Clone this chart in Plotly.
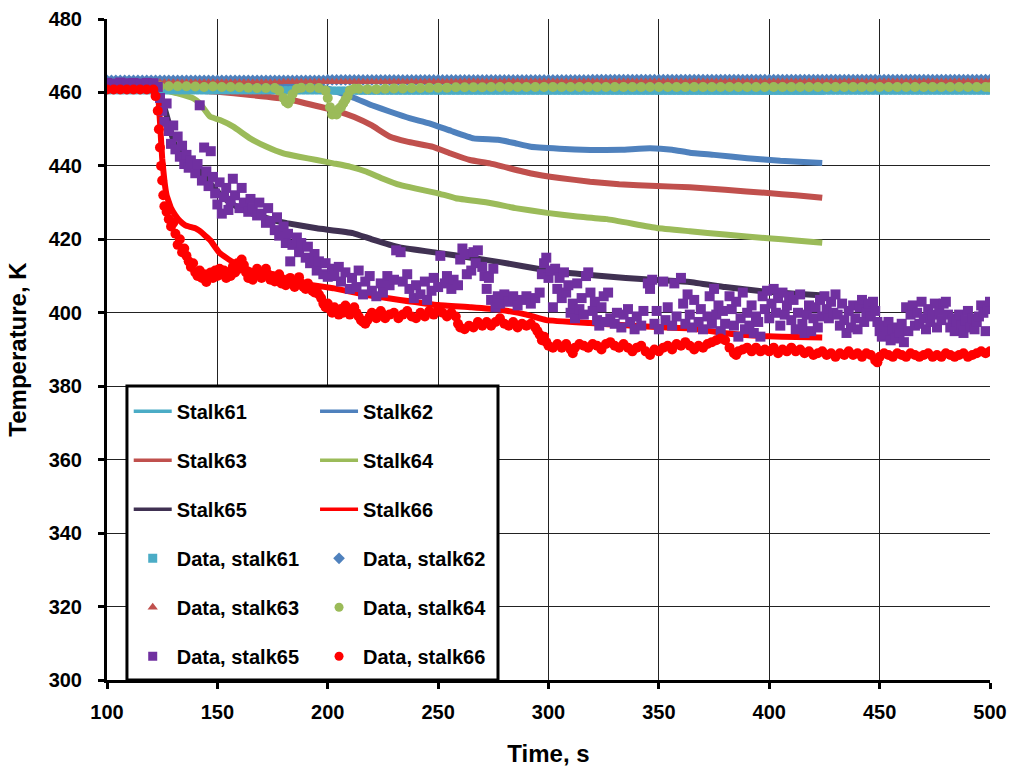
import plotly.graph_objects as go

# ---- model curves (time in s, temperature in K) ----
S61_t = [100, 200, 300, 425]
S61_v = [460.4, 460.3, 460.3, 460.2]

S62_t = [100, 190, 200, 205, 212, 220, 228, 237, 246, 256, 266, 277, 284, 292,
         305, 319, 333, 346, 356, 364, 375, 390, 405, 424]
S62_v = [461.5, 461.5, 461.0, 460.0, 458.5, 456.5, 454.8, 453.0, 451.6, 449.5,
         447.5, 447.1, 446.3, 445.2, 444.7, 444.3, 444.4, 444.8, 444.4, 443.6,
         443.0, 442.1, 441.4, 440.8]

S63_t = [100, 125, 150, 165, 181.5, 195, 205, 212, 220, 228, 236, 247.7, 256,
         264.4, 273.5, 291.6, 305, 318.8, 332, 349, 364, 380, 399.4, 412, 424]
S63_v = [461.2, 461.0, 460.2, 459.3, 458.2, 456.3, 454.8, 453.3, 451.0, 448.0,
         446.6, 445.2, 443.3, 441.6, 440.7, 438.0, 436.7, 435.7, 435.0, 434.5,
         434.2, 433.5, 432.6, 432.0, 431.3]

S64_t = [100, 122, 125.5, 131.6, 139.1, 142.1, 146.7, 151.2, 157.2, 164.8, 172.3,
         179.9, 187, 195, 202.5, 210, 217.6, 225, 232.7, 240, 249.5, 258, 273.5,
         285, 299.3, 313, 326.5, 349, 364, 380, 399.4, 412, 424]
S64_v = [461.5, 461.5, 460.7, 459.8, 458.4, 457.0, 453.4, 452.5, 450.7, 447.5,
         445.2, 443.4, 442.5, 441.6, 440.7, 439.8, 438.4, 436.5, 434.8, 433.8,
         432.6, 431.2, 429.9, 428.5, 427.2, 426.2, 425.5, 423.1, 422.2, 421.3,
         420.3, 419.7, 419.1]

S65_t = [100, 123, 125, 127.6, 129.5, 131.6, 134.5, 142, 150, 154.2, 160, 168,
         177, 181.5, 195, 211.4, 220, 232.7, 250, 265, 278, 299, 318.8, 335, 349,
         364, 380, 399.4, 412, 423]
S65_v = [462.0, 461.5, 458.0, 452.5, 448.0, 444.3, 443.0, 438.5, 433.0, 430.7,
         428.5, 426.5, 425.0, 424.4, 423.0, 421.7, 420.0, 417.8, 416.3, 415.0,
         413.8, 411.6, 410.3, 409.5, 408.9, 408.4, 407.0, 405.7, 405.2, 404.8]

S66_t = [100, 122, 123, 124, 125, 126, 127, 129, 131, 133, 135.5, 137.6, 140, 142,
         144.5, 146.7, 151, 157, 164.8, 172, 179.7, 190, 202.4, 217.8, 232.7, 250,
         265, 278, 290, 299, 318.8, 335, 349, 364, 379, 399.4, 412, 424]
S66_v = [461.0, 460.8, 460.0, 452.0, 442.0, 436.0, 432.0, 428.5, 426.5, 425.0,
         423.8, 423.4, 423.0, 422.3, 421.0, 419.8, 416.3, 413.8, 411.6, 410.0,
         408.9, 407.8, 406.7, 404.8, 403.5, 402.1, 401.5, 400.8, 399.5, 398.0,
         397.2, 396.6, 396.1, 395.8, 394.5, 393.6, 393.4, 393.3]

# ---- measured data ----
# stalks 61-63 logged every 2 s
TOP_t = list(range(100, 501, 2))
D61_v = [
    460.6, 460.6, 460.6, 460.6, 460.6, 460.6, 460.6, 460.6, 460.6, 460.6,
    460.6, 460.6, 460.6, 460.6, 460.6, 460.6, 460.6, 460.6, 460.6, 460.6,
    460.6, 460.6, 460.6, 460.6, 460.6, 460.6, 460.6, 460.6, 460.6, 460.6,
    460.6, 460.6, 460.6, 460.6, 460.6, 460.6, 460.6, 460.6, 460.6, 460.6,
    460.6, 460.6, 460.6, 460.6, 460.6, 460.6, 460.6, 460.6, 460.6, 460.6,
    460.5, 460.5, 460.5, 460.5, 460.5, 460.5, 460.5, 460.5, 460.5, 460.5,
    460.5, 460.5, 460.5, 460.5, 460.5, 460.5, 460.5, 460.5, 460.5, 460.5,
    460.5, 460.5, 460.5, 460.5, 460.5, 460.5, 460.5, 460.5, 460.5, 460.5,
    460.5, 460.5, 460.5, 460.5, 460.5, 460.5, 460.5, 460.5, 460.5, 460.5,
    460.5, 460.5, 460.5, 460.5, 460.5, 460.5, 460.5, 460.5, 460.5, 460.5,
    460.5, 460.5, 460.5, 460.5, 460.5, 460.5, 460.5, 460.5, 460.5, 460.5,
    460.5, 460.5, 460.5, 460.5, 460.5, 460.5, 460.5, 460.5, 460.5, 460.5,
    460.5, 460.5, 460.5, 460.5, 460.5, 460.5, 460.5, 460.5, 460.5, 460.5,
    460.5, 460.5, 460.5, 460.5, 460.5, 460.5, 460.5, 460.5, 460.5, 460.5,
    460.5, 460.5, 460.5, 460.5, 460.5, 460.5, 460.5, 460.5, 460.5, 460.5,
    460.5, 460.5, 460.5, 460.5, 460.5, 460.5, 460.5, 460.5, 460.5, 460.5,
    460.5, 460.5, 460.5, 460.5, 460.5, 460.5, 460.5, 460.5, 460.5, 460.5,
    460.5, 460.5, 460.5, 460.5, 460.5, 460.5, 460.5, 460.5, 460.5, 460.5,
    460.5, 460.5, 460.5, 460.5, 460.5, 460.5, 460.5, 460.5, 460.5, 460.5,
    460.5, 460.5, 460.5, 460.5, 460.5, 460.5, 460.5, 460.5, 460.5, 460.5,
    460.5]
D62_v = [
    463.3, 463.3, 463.3, 463.3, 463.3, 463.3, 463.3, 463.3, 463.3, 463.3,
    463.3, 463.3, 463.3, 463.3, 463.3, 463.3, 463.3, 463.3, 463.3, 463.3,
    463.3, 463.3, 463.3, 463.3, 463.3, 463.3, 463.3, 463.3, 463.3, 463.3,
    463.3, 463.3, 463.3, 463.3, 463.3, 463.3, 463.3, 463.3, 463.3, 463.3,
    463.3, 463.3, 463.3, 463.3, 463.3, 463.3, 463.3, 463.3, 463.3, 463.3,
    463.4, 463.4, 463.4, 463.4, 463.4, 463.4, 463.4, 463.4, 463.4, 463.4,
    463.4, 463.4, 463.4, 463.4, 463.4, 463.4, 463.4, 463.4, 463.4, 463.4,
    463.4, 463.4, 463.4, 463.4, 463.4, 463.4, 463.4, 463.4, 463.4, 463.4,
    463.4, 463.4, 463.4, 463.4, 463.4, 463.4, 463.4, 463.4, 463.4, 463.4,
    463.4, 463.4, 463.4, 463.4, 463.4, 463.4, 463.4, 463.4, 463.4, 463.4,
    463.4, 463.4, 463.4, 463.4, 463.4, 463.4, 463.4, 463.4, 463.4, 463.4,
    463.5, 463.5, 463.5, 463.5, 463.5, 463.5, 463.5, 463.5, 463.5, 463.5,
    463.5, 463.5, 463.5, 463.5, 463.5, 463.5, 463.5, 463.5, 463.5, 463.5,
    463.5, 463.5, 463.5, 463.5, 463.5, 463.5, 463.5, 463.5, 463.5, 463.5,
    463.5, 463.5, 463.5, 463.5, 463.5, 463.5, 463.5, 463.5, 463.5, 463.5,
    463.5, 463.5, 463.5, 463.5, 463.5, 463.5, 463.5, 463.5, 463.5, 463.5,
    463.5, 463.5, 463.5, 463.5, 463.5, 463.5, 463.5, 463.5, 463.5, 463.5,
    463.5, 463.5, 463.5, 463.5, 463.5, 463.5, 463.5, 463.5, 463.5, 463.5,
    463.5, 463.5, 463.5, 463.5, 463.5, 463.5, 463.5, 463.5, 463.5, 463.5,
    463.5, 463.5, 463.5, 463.5, 463.5, 463.5, 463.5, 463.5, 463.5, 463.5,
    463.5]
D63_v = [
    462.8, 462.8, 462.8, 462.8, 462.8, 462.8, 462.8, 462.8, 462.8, 462.8,
    462.8, 462.8, 462.8, 462.8, 462.8, 462.8, 462.8, 462.8, 462.8, 462.8,
    462.8, 462.8, 462.8, 462.8, 462.8, 462.8, 462.8, 462.8, 462.8, 462.8,
    462.8, 462.8, 462.8, 462.8, 462.8, 462.8, 462.8, 462.8, 462.8, 462.8,
    462.9, 462.9, 462.9, 462.9, 462.9, 462.9, 462.9, 462.9, 462.9, 462.9,
    462.9, 462.9, 462.9, 462.9, 462.9, 462.9, 462.9, 462.9, 462.9, 462.9,
    462.9, 462.9, 462.9, 462.9, 462.9, 462.9, 462.9, 462.9, 462.9, 462.9,
    462.9, 462.9, 462.9, 462.9, 462.9, 462.9, 462.9, 462.9, 462.9, 462.9,
    463.0, 463.0, 463.0, 463.0, 463.0, 463.0, 463.0, 463.0, 463.0, 463.0,
    463.0, 463.0, 463.0, 463.0, 463.0, 463.0, 463.0, 463.0, 463.0, 463.0,
    463.0, 463.0, 463.0, 463.0, 463.0, 463.0, 463.0, 463.0, 463.0, 463.0,
    463.0, 463.0, 463.0, 463.0, 463.0, 463.0, 463.0, 463.0, 463.0, 463.0,
    463.0, 463.0, 463.0, 463.0, 463.0, 463.0, 463.0, 463.0, 463.0, 463.0,
    463.0, 463.0, 463.0, 463.0, 463.0, 463.0, 463.0, 463.0, 463.0, 463.0,
    463.0, 463.0, 463.0, 463.0, 463.0, 463.0, 463.0, 463.0, 463.0, 463.0,
    463.0, 463.0, 463.0, 463.0, 463.0, 463.0, 463.0, 463.0, 463.0, 463.0,
    463.0, 463.0, 463.0, 463.0, 463.0, 463.0, 463.0, 463.0, 463.0, 463.0,
    463.0, 463.0, 463.0, 463.0, 463.0, 463.0, 463.0, 463.0, 463.0, 463.0,
    463.0, 463.0, 463.0, 463.0, 463.0, 463.0, 463.0, 463.0, 463.0, 463.0,
    463.0, 463.0, 463.0, 463.0, 463.0, 463.0, 463.0, 463.0, 463.0, 463.0,
    463.0]

D64_t = [100, 104, 108, 112, 116, 120, 124, 128, 132, 136, 140, 144, 148, 152,
         156, 160, 164, 168, 172, 176, 178, 180, 181, 182, 183, 184, 186, 188,
         192, 196, 199, 200, 201, 202, 203, 204, 205, 206, 207, 208, 209, 210,
         212, 214, 218, 222, 226, 230, 234, 238, 242, 246, 250, 254, 258, 262,
         266, 270, 274, 278, 282, 286, 290, 294, 298, 302, 306, 310, 314, 318,
         322, 326, 330, 334, 338, 342, 346, 350, 354, 358, 362, 366, 370, 374,
         378, 382, 386, 390, 394, 398, 402, 406, 410, 414, 418, 422, 426, 430,
         434, 438, 442, 446, 450, 454, 458, 462, 466, 470, 474, 478, 482, 486,
         490, 494, 498, 500]
D64_v = [461.6, 461.6, 461.6, 461.6, 461.6, 461.6, 461.6, 461.7, 461.7, 461.7,
         461.6, 461.5, 461.6, 461.5, 461.5, 461.4, 461.3, 461.2, 461.2, 461.2,
         460.5, 458.5, 457.5, 457.0, 458.0, 459.5, 461.0, 461.3, 461.3, 461.2,
         460.5, 458.5, 456.0, 454.0, 454.5, 454.0, 455.5, 456.0, 457.0, 458.0,
         459.0, 460.5, 461.0, 461.0, 460.9, 460.9, 461.0, 461.1, 461.1, 461.2,
         461.2, 461.3, 461.3, 461.3, 461.4, 461.4, 461.4, 461.4, 461.5, 461.5,
         461.5, 461.5, 461.5, 461.5, 461.5, 461.5, 461.5, 461.5, 461.5, 461.5,
         461.5, 461.5, 461.5, 461.5, 461.5, 461.5, 461.5, 461.5, 461.5, 461.5,
         461.5, 461.5, 461.5, 461.5, 461.5, 461.5, 461.5, 461.5, 461.5, 461.5,
         461.5, 461.5, 461.5, 461.5, 461.5, 461.5, 461.5, 461.5, 461.5, 461.5,
         461.5, 461.5, 461.5, 461.5, 461.5, 461.5, 461.5, 461.5, 461.5, 461.5,
         461.5, 461.5, 461.5, 461.5, 461.5, 461.4]

D65_t = [100, 103, 106, 109, 112, 115, 118, 121, 123, 124, 125, 126, 127, 128,
         129, 130, 131, 132, 133, 134, 135, 136, 137, 138, 140, 141, 142, 143,
         144, 145, 146, 147, 148, 149, 150, 151, 152, 153, 154, 155, 156, 157,
         158, 160, 161, 162, 164, 165, 166, 168, 169, 170, 172, 173, 174, 176,
         177, 178, 180, 181, 182, 183, 184, 186, 187, 188, 190, 191, 192, 194,
         195, 196, 198, 199, 200, 202, 203, 205, 206, 208, 210, 211, 213, 214,
         216, 217, 219, 220, 222, 224, 225, 227, 228, 230, 231, 233, 234, 236,
         237, 239, 240, 242, 244, 245, 247, 248, 250, 251, 253, 254, 256, 257,
         259, 260, 261, 262, 263, 265, 266, 267, 268, 270, 271, 272, 273, 274,
         275, 276, 277, 278, 280, 282, 284, 286, 288, 290, 292, 294, 296, 297,
         298, 299, 300, 301, 302, 303, 304, 305, 306, 307, 308, 309, 310, 311,
         312, 313, 314, 315, 316, 317, 318, 319, 320, 321, 322, 323, 324, 325,
         326, 327, 328, 330, 331, 333, 334, 336, 337, 339, 340, 342, 343, 345,
         346, 347, 348, 349, 350, 352, 353, 354, 356, 357, 358, 360, 361, 362,
         363, 364, 365, 366, 368, 369, 370, 372, 373, 374, 375, 376, 377, 378,
         379, 380, 382, 383, 384, 385, 386, 387, 388, 389, 390, 391, 392, 393,
         394, 395, 396, 397, 398, 399, 400, 401, 402, 403, 404, 405, 406, 407,
         408, 409, 410, 411, 412, 413, 414, 415, 416, 417, 418, 419, 420, 421,
         422, 423, 424, 425, 426, 427, 428, 429, 430, 431, 432, 433, 434, 435,
         436, 437, 438, 439, 440, 441, 442, 443, 444, 445, 446, 447, 448, 449,
         450, 451, 452, 453, 454, 455, 456, 457, 458, 459, 460, 461, 462, 463,
         464, 465, 466, 467, 468, 469, 470, 471, 472, 473, 474, 475, 476, 477,
         478, 479, 480, 481, 482, 483, 484, 485, 486, 487, 488, 489, 490, 491,
         492, 493, 494, 495, 496, 497, 498, 499, 500]
D65_v = [462.6, 462.4, 462.7, 462.5, 462.6, 462.4, 462.6, 462.5, 461.5, 458.5,
         455.0, 452.0, 457.0, 449.5, 446.0, 451.0, 444.5, 448.0, 442.5, 445.5,
         440.5, 443.0, 439.5, 441.5, 438.0, 440.5, 456.5, 436.0, 445.0, 438.5,
         434.5, 444.0, 437.0, 432.5, 429.5, 435.5, 427.0, 431.5, 434.0, 428.0,
         430.5, 436.5, 432.0, 428.5, 434.0, 430.0, 427.5, 431.0, 428.5, 426.5,
         430.0, 427.0, 424.5, 428.5, 425.0, 422.5, 426.0, 421.0, 423.5, 419.0,
         421.5, 414.0, 418.5, 420.5, 416.5, 419.0, 415.0, 418.0, 413.5, 416.0,
         411.5, 414.0, 410.5, 413.5, 409.8, 412.0, 410.0, 412.5, 408.5, 411.0,
         406.5, 409.5, 407.0, 411.5, 405.0, 408.5, 410.0, 406.0, 404.5, 408.0,
         405.5, 410.0, 407.5, 409.0, 417.0, 416.5, 408.5, 410.5, 406.5, 404.0,
         407.5, 405.0, 408.5, 403.5, 406.0, 409.5, 407.0, 415.5, 408.0, 410.0,
         406.5, 409.0, 407.5, 414.5, 417.5, 416.0, 410.5, 411.5, 416.5, 413.5,
         417.0, 412.5, 410.0, 406.5, 409.5, 403.5, 412.0, 401.5, 404.5, 402.5,
         405.0, 403.0, 404.5, 402.0, 403.5, 404.5, 402.5, 404.0, 405.5, 410.5,
         413.5, 415.0, 409.5, 411.5, 401.5, 412.0, 406.5, 409.5, 404.0, 411.0,
         405.5, 407.5, 400.0, 402.5, 398.5, 408.0, 401.0, 404.0, 399.5, 410.0,
         411.0, 405.5, 400.5, 403.0, 398.0, 396.5, 401.5, 404.5, 397.5, 405.5,
         398.5, 397.0, 400.0, 396.0, 399.5, 401.0, 397.5, 395.5, 399.0, 396.5,
         400.5, 408.0, 406.5, 409.0, 397.0, 400.5, 395.5, 408.5, 398.0, 401.5,
         396.5, 408.0, 399.0, 409.5, 402.5, 397.0, 405.0, 399.5, 396.0, 403.5,
         397.5, 401.0, 395.5, 399.0, 404.5, 397.0, 406.5, 399.5, 402.0, 395.0,
         400.5, 397.0, 404.5, 401.0, 396.5, 403.0, 393.5, 398.5, 405.5, 395.5,
         400.0, 396.5, 402.0, 394.5, 399.0, 397.5, 393.5, 404.5, 401.0, 406.0,
         398.5, 402.5, 406.5, 400.0, 404.0, 396.5, 405.5, 399.5, 402.0, 404.5,
         398.0, 403.5, 395.5, 400.0, 405.0, 397.0, 394.5, 399.5, 402.0, 395.0,
         398.5, 401.5, 396.0, 403.5, 399.0, 404.5, 401.0, 398.5, 403.0, 400.0,
         405.0, 399.5, 396.5, 402.5, 398.0, 394.5, 400.5, 396.0, 402.0, 398.5,
         395.5, 401.5, 403.5, 397.5, 400.0, 402.5, 399.0, 403.0, 400.5, 397.5,
         395.0, 393.5, 396.5, 394.0, 397.5, 392.5, 395.5, 393.0, 396.0, 394.5,
         397.0, 392.0, 401.5, 395.0, 399.5, 402.0, 396.5, 400.0, 397.0, 403.0,
         398.5, 395.5, 401.0, 397.5, 399.5, 402.5, 396.0, 400.5, 398.0, 402.5,
         403.0, 399.5, 396.0, 398.5, 395.0, 397.5, 399.5, 396.5, 394.5, 398.0,
         400.5, 396.0, 398.5, 395.5, 397.5, 399.0, 402.0, 400.0, 395.0, 401.0,
         403.0]

D66_t = [100, 103, 106, 109, 112, 115, 118, 121, 122, 123, 123.5, 124, 124.5,
         125, 125.5, 126, 127, 128, 129, 130, 131, 132, 133, 134, 135, 136, 137,
         138, 139, 140, 141, 142, 143, 144, 145, 146, 147, 148, 149, 150, 151,
         152, 153, 154, 155, 156, 157, 158, 159, 160, 161, 162, 163, 164, 165,
         166, 167, 168, 169, 170, 171, 172, 173, 174, 175, 176, 177, 178, 179,
         180, 181, 182, 183, 184, 185, 186, 187, 188, 189, 190, 191, 192, 193,
         194, 195, 196, 197, 198, 199, 200, 201, 202, 203, 204, 205, 206, 207,
         208, 209, 210, 211, 212, 213, 214, 215, 216, 217, 218, 219, 220, 221,
         222, 223, 224, 225, 226, 228, 230, 232, 234, 236, 238, 240, 242, 244,
         246, 248, 250, 252, 254, 256, 258, 259, 260, 262, 264, 266, 268, 270,
         272, 274, 276, 278, 280, 282, 284, 286, 288, 290, 292, 294, 295, 296,
         297, 298, 299, 300, 302, 304, 306, 308, 310, 311, 312, 314, 316, 318,
         320, 322, 324, 326, 328, 330, 332, 334, 336, 338, 340, 342, 344, 346,
         348, 350, 352, 354, 356, 358, 360, 362, 364, 366, 368, 370, 372, 374,
         376, 378, 380, 382, 384, 385, 386, 388, 390, 392, 394, 396, 398, 400,
         402, 404, 406, 408, 410, 412, 414, 416, 418, 420, 422, 424, 426, 428,
         430, 432, 434, 436, 438, 440, 442, 444, 446, 448, 449, 450, 452, 454,
         456, 458, 460, 462, 464, 466, 468, 470, 472, 474, 476, 478, 480, 482,
         484, 486, 488, 490, 492, 494, 496, 498, 500]
D66_v = [460.8, 460.8, 460.8, 460.8, 460.8, 460.8, 460.8, 460.8, 459.0, 455.0,
         450.0, 445.0, 440.0, 436.0, 432.0, 429.0, 427.5, 425.5, 423.5, 424.5,
         421.5, 418.5, 420.0, 416.5, 417.5, 415.5, 414.0, 412.5, 413.5, 411.0,
         410.0, 411.5, 409.5, 410.5, 408.4, 410.5, 411.0, 409.5, 411.5, 410.0,
         412.0, 410.5, 411.5, 409.5, 411.0, 410.0, 412.5, 411.0, 413.5, 412.0,
         414.5, 413.0, 411.0, 409.5, 410.5, 409.0, 411.0, 412.0, 410.5, 409.5,
         411.0, 412.0, 410.5, 409.0, 410.0, 408.5, 409.5, 410.5, 408.0, 409.0,
         407.5, 408.5, 409.5, 408.0, 407.0, 408.5, 409.7, 408.0, 407.0, 406.5,
         408.0, 407.0, 406.0, 405.5, 406.5, 405.0, 404.0, 402.5, 401.5, 402.5,
         401.0, 400.0, 401.5, 400.5, 399.5, 401.0, 400.0, 402.0, 400.5, 399.5,
         400.5, 401.5, 400.0, 399.0, 398.0, 397.5, 397.0, 398.0, 399.0, 400.0,
         399.5, 398.5, 399.5, 400.5, 399.5, 398.5, 399.5, 400.0, 398.5, 399.5,
         400.5, 399.0, 398.5, 400.0, 399.0, 400.5, 399.5, 401.0, 400.0, 399.0,
         400.0, 399.0, 397.0, 396.0, 395.5, 396.5, 396.0, 397.5, 396.5, 397.5,
         396.5, 397.5, 398.5, 397.0, 396.5, 397.5, 396.0, 397.0, 396.5, 397.0,
         396.0, 395.0, 394.0, 392.5, 393.5, 392.0, 391.0, 390.5, 391.5, 390.5,
         391.5, 390.0, 389.0, 390.5, 391.5, 391.0, 390.5, 391.5, 391.0, 390.0,
         391.5, 392.0, 391.0, 390.5, 391.5, 390.5, 389.5, 390.5, 391.0, 389.5,
         388.5, 390.0, 389.5, 390.5, 391.0, 390.0, 391.5, 391.0, 392.0, 391.0,
         390.0, 391.0, 390.5, 391.5, 392.0, 392.5, 393.0, 392.5, 390.5, 389.0,
         388.5, 389.5, 390.0, 390.5, 389.5, 390.5, 389.5, 390.0, 389.5, 390.5,
         389.0, 390.0, 389.5, 390.5, 389.5, 390.0, 389.0, 389.5, 388.5, 389.0,
         389.5, 388.5, 389.0, 388.0, 389.0, 388.5, 389.5, 388.5, 389.0, 388.0,
         389.0, 388.5, 387.0, 386.5, 388.0, 389.0, 388.5, 388.0, 389.0, 388.5,
         388.0, 389.0, 388.5, 388.0, 388.5, 389.0, 388.0, 388.5, 388.0, 389.0,
         388.5, 388.0, 388.5, 389.0, 388.0, 388.5, 389.0, 389.5, 389.0, 389.5]

C61, C62, C63, C64 = "#4BACC6", "#4F81BD", "#C0504D", "#9BBB59"
C65_LINE, C65_MARK, C66 = "#403152", "#7030A0", "#FF0000"

FONT = "Liberation Sans, Arial, sans-serif"

fig = go.Figure()

# model lines
for name, t, v, c in [("Stalk61", S61_t, S61_v, C61), ("Stalk62", S62_t, S62_v, C62),
                      ("Stalk63", S63_t, S63_v, C63), ("Stalk64", S64_t, S64_v, C64),
                      ("Stalk65", S65_t, S65_v, C65_LINE), ("Stalk66", S66_t, S66_v, C66)]:
    fig.add_trace(go.Scatter(x=t, y=v, mode="lines", name=name, showlegend=False,
                             line=dict(color=c, width=6, shape="spline", smoothing=0.3)))

# measured points
for name, t, v, c, sym, sz in [
        ("Data, stalk61", TOP_t, D61_v, C61, "square", 8),
        ("Data, stalk62", TOP_t, D62_v, C62, "diamond", 9),
        ("Data, stalk63", TOP_t, D63_v, C63, "triangle-up", 8),
        ("Data, stalk64", D64_t, D64_v, C64, "circle", 10),
        ("Data, stalk65", D65_t, D65_v, C65_MARK, "square", 10),
        ("Data, stalk66", D66_t, D66_v, C66, "circle", 10)]:
    fig.add_trace(go.Scatter(x=t, y=v, mode="markers", name=name, showlegend=False,
                             marker=dict(color=c, symbol=sym, size=sz, line=dict(width=0))))

# legend entries: two columns
entries = [("Stalk61", "lines", C61, None, "legend"),
           ("Stalk62", "lines", C62, None, "legend2"),
           ("Stalk63", "lines", C63, None, "legend"),
           ("Stalk64", "lines", C64, None, "legend2"),
           ("Stalk65", "lines", C65_LINE, None, "legend"),
           ("Stalk66", "lines", C66, None, "legend2"),
           ("Data, stalk61", "markers", C61, "square", "legend"),
           ("Data, stalk62", "markers", C62, "diamond", "legend2"),
           ("Data, stalk63", "markers", C63, "triangle-up", "legend"),
           ("Data, stalk64", "markers", C64, "circle", "legend2"),
           ("Data, stalk65", "markers", C65_MARK, "square", "legend"),
           ("Data, stalk66", "markers", C66, "circle", "legend2")]
for i, (name, mode, c, sym, lg) in enumerate(entries):
    kw = dict(line=dict(color=c, width=3.5)) if mode == "lines" else \
        dict(marker=dict(color=c, symbol=sym, size=9, line=dict(width=0)))
    fig.add_trace(go.Scatter(x=[None], y=[None], mode=mode, name=name, legend=lg,
                             legendgroup=f"g{i}", showlegend=True, **kw))

axis_common = dict(showgrid=True, gridcolor="#222222", gridwidth=1, zeroline=False,
                   showline=True, linecolor="black", linewidth=3, ticks="outside",
                   ticklen=6, tickwidth=3, tickcolor="black", automargin=False,
                   tickfont=dict(family=FONT, size=20, color="black", weight="bold"))

legend_common = dict(bgcolor="rgba(0,0,0,0)", borderwidth=0, tracegroupgap=20,
                     font=dict(family=FONT, size=20, color="black", weight="bold"),
                     xanchor="left", yanchor="top", orientation="v", itemwidth=38)

fig.update_layout(
    width=1009, height=767,
    margin=dict(l=107, r=19, t=19, b=87),
    paper_bgcolor="white", plot_bgcolor="white",
    xaxis=dict(range=[100, 500], tick0=100, dtick=50, ticklabelstandoff=6,
               title=dict(text="Time, s", standoff=24,
                          font=dict(family=FONT, size=24, color="black", weight="bold")),
               **axis_common),
    yaxis=dict(range=[300, 480], tick0=300, dtick=20, ticklabelstandoff=12,
               title=dict(text="Temperature, K", standoff=16,
                          font=dict(family=FONT, size=24, color="black", weight="bold")),
               **axis_common),
    legend=dict(x=0.0246, y=0.436, **legend_common),
    legend2=dict(x=0.2356, y=0.436, **legend_common),
    shapes=[dict(type="rect", xref="paper", yref="paper", x0=0.0226, x1=0.4428,
                 y0=0, y1=0.4448, fillcolor="white", layer="above",
                 line=dict(color="black", width=3))],
)

fig.write_html("out.html")
